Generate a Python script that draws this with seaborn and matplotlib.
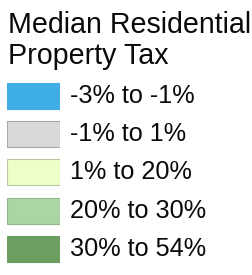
import matplotlib
matplotlib.use("Agg")
import matplotlib.pyplot as plt
import seaborn as sns

# legend content
title_lines = ["Median Residential", "Property Tax"]
labels = ["-3% to -1%", "-1% to 1%", "1% to 20%", "20% to 30%", "30% to 54%"]
colors = ["#3fade6", "#d9d9d9", "#efffc9", "#abd6a3", "#6c9e62"]
edges = ["#3fade6", "#a8a8a8", "#b8c8a0", "#90b888", "#6c9e62"]
swatch = [1, 1, 1, 1, 1]

sns.set_theme(style="white")
plt.rcParams["font.family"] = ["Liberation Sans", "DejaVu Sans"]

W, H = 253, 275
fig = plt.figure(figsize=(W / 100, H / 100), dpi=100)
fig.patch.set_facecolor("white")

# axes holding the colour swatches (one row per category)
pitch = 38.2
top = 96 - pitch / 2
ax = fig.add_axes([7 / W, 1 - (top + pitch * len(labels)) / H, 53 / W, pitch * len(labels) / H])
sns.barplot(x=swatch, y=labels, hue=labels, palette=colors, width=0.68,
            saturation=1, legend=False, ax=ax, orient="h", linewidth=0.8)
for bar, ec in zip(ax.patches, edges):
    bar.set_edgecolor(ec)
ax.set_xlim(0, 1)
ax.set_axis_off()

for i, lab in enumerate(labels):
    ax.text(63 / 53, i, lab, fontsize=18.2, va="center", ha="left",
            color="#0a0a0a", clip_on=False)

fig.text(8 / W, 1 - 33 / H, title_lines[0], fontsize=20.6, va="baseline", color="#0a0a0a")
fig.text(8 / W, 1 - 64 / H, title_lines[1], fontsize=20.6, va="baseline", color="#0a0a0a")

fig.savefig("out.png", dpi=100, facecolor="white")
